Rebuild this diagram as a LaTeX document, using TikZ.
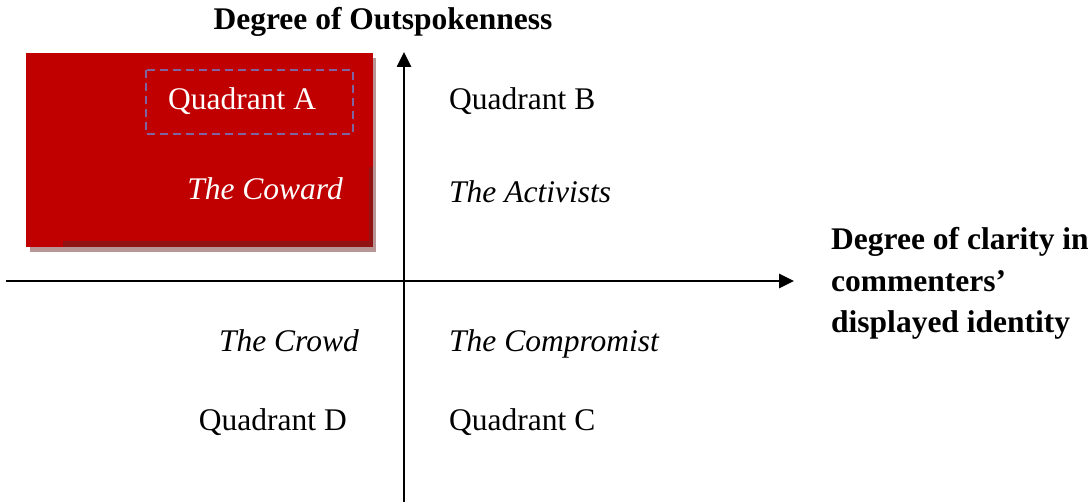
\documentclass[tikz,border=0pt]{standalone}
\usepackage{fontspec}
\setmainfont{Liberation Serif}
\usepackage{tikz}
\usetikzlibrary{arrows.meta}
\definecolor{boxred}{RGB}{192,0,0}
\definecolor{boxdark}{RGB}{145,20,20}
\definecolor{shadowgray}{RGB}{185,150,150}
\definecolor{dashpurple}{RGB}{128,100,162}

\begin{document}
\begin{tikzpicture}[x=1pt,y=1pt]
			\tikzstyle{every node}+=[inner sep=0pt,font=\fontsize{31.5}{36}\selectfont]
			\tikzstyle{axis}=[black,line width=2.6pt,-{Triangle[length=15pt,width=14pt]}]
			\tikzstyle{label}=[font=\fontsize{31.5}{41.5}\selectfont\bfseries]
			\useasboundingbox (0,0) rectangle (1092,-502);
			\fill [shadowgray] (30,-58) rectangle (376,-252);
			\fill [boxred] (26,-53) rectangle (373,-247);
			\fill [boxdark] (63,-241) rectangle (372,-247);
			\fill [boxdark] (369,-167) rectangle (373,-247);
			\draw [dashpurple,line width=2.2pt,dash pattern=on 8pt off 5pt] (146,-70) rectangle (353,-134);
			\coordinate (xstart) at (6,-281);
			\coordinate (xend) at (794,-281);
			\coordinate (ystart) at (404,-502);
			\coordinate (yend) at (404,-52);
			\draw [axis] (xstart) -- (xend);
			\draw [axis] (ystart) -- (yend);
			\draw (383,-30) node [label,anchor=base] (ylabel) {Degree of Outspokenness};
			\draw (831,-333) node [label,anchor=base west,align=left] (xlabel) {Degree of clarity in\\commenters'\\displayed identity};
			\draw (168,-110) node [anchor=base west,white] (quadA) {Quadrant A};
			\draw (449,-110) node [anchor=base west] (quadB) {Quadrant B};
			\draw (449,-430) node [anchor=base west] (quadC) {Quadrant C};
			\draw (347,-430) node [anchor=base east] (quadD) {Quadrant D};
			\draw (343,-200) node [anchor=base east,white] (coward) {\itshape The Coward};
			\draw (449,-203) node [anchor=base west] (activists) {\itshape The Activists};
			\draw (359,-352) node [anchor=base east] (crowd) {\itshape The Crowd};
			\draw (449,-352) node [anchor=base west] (compromist) {\itshape The Compromist};
\end{tikzpicture}
\end{document}
